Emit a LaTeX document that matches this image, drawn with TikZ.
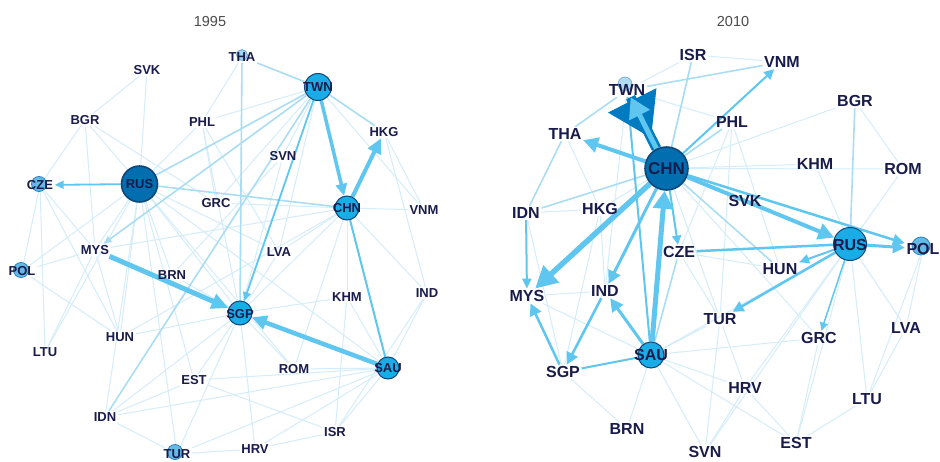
\documentclass[tikz,border=0pt]{standalone}
\usepackage{fontspec}
\setmainfont{Liberation Sans}
\usetikzlibrary{arrows.meta,backgrounds}

\definecolor{navy}{RGB}{25,28,75}
\definecolor{hubdark}{RGB}{0,110,175}
\definecolor{hublight}{RGB}{25,172,230}
\definecolor{hubline}{RGB}{15,70,120}
\definecolor{dotfill}{RGB}{100,185,230}
\definecolor{dotline}{RGB}{40,130,190}
\definecolor{faintc}{RGB}{212,237,249}
\definecolor{softc}{RGB}{170,221,243}
\definecolor{flowc}{RGB}{95,198,240}
\definecolor{wedgec}{RGB}{0,122,192}

\begin{document}
\begin{tikzpicture}[x=1pt,y=-1pt,
    lbl/.style={font=\bfseries\fontsize{13}{13}\selectfont,text=navy,inner sep=1.5pt},
    biglbl/.style={font=\bfseries\fontsize{16}{16}\selectfont,text=navy,inner sep=1.5pt},
    year/.style={font=\fontsize{14.5}{15}\selectfont,text=black!70},
    hub/.style={circle,draw=hubline,line width=1pt,fill=hublight,inner sep=0pt,minimum size=#1},
    darkhub/.style={hub=#1,fill=hubdark,line width=1.6pt},
    dot/.style={circle,draw=dotline,line width=0.8pt,fill=dotfill,inner sep=0pt,minimum size=#1},
    faint/.style={draw=faintc,line width=1pt},
    soft/.style={draw=softc,line width=1.6pt},
    flow/.style={draw=flowc,line width=#1},
    tip/.style 2 args={arrows={-{Triangle[length=#1,width=#2]}}}]
  \useasboundingbox (0,0) rectangle (940,461);

  % 1995
  \node[year] (t95) at (210,22) {1995};
  \node[dot=11pt,opacity=.6] (tha95) at (242,55) {};
  \node[lbl] (tha95txt) at (242,57) {THA};
  \node[lbl] (svk95) at (147,70) {SVK};
  \node[hub=27pt] (twn95) at (318,87) {};
  \node[lbl] (twn95txt) at (318,87) {TWN};
  \node[lbl] (bgr95) at (85,120) {BGR};
  \node[lbl] (phl95) at (202,122) {PHL};
  \node[lbl] (hkg95) at (384,132) {HKG};
  \node[lbl] (svn95) at (283,156) {SVN};
  \node[dot=15pt] (cze95) at (39,184) {};
  \node[lbl] (cze95txt) at (40,185) {CZE};
  \node[darkhub=36pt] (rus95) at (139.5,184) {};
  \node[lbl] (rus95txt) at (139.5,184) {RUS};
  \node[lbl] (grc95) at (216,203) {GRC};
  \node[hub=24pt] (chn95) at (347,208) {};
  \node[lbl] (chn95txt) at (347,208) {CHN};
  \node[lbl] (vnm95) at (424,210) {VNM};
  \node[lbl] (mys95) at (95,250) {MYS};
  \node[dot=15pt] (pol95) at (21,270) {};
  \node[lbl] (pol95txt) at (22,271) {POL};
  \node[lbl] (brn95) at (172,275) {BRN};
  \node[lbl] (lva95) at (279,252) {LVA};
  \node[lbl] (khm95) at (347,297) {KHM};
  \node[lbl] (ind95) at (427,293) {IND};
  \node[hub=24pt] (sgp95) at (240,313) {};
  \node[lbl] (sgp95txt) at (240,314) {SGP};
  \node[lbl] (hun95) at (120,337) {HUN};
  \node[lbl] (ltu95) at (45,352) {LTU};
  \node[hub=22pt] (sau95) at (388,368) {};
  \node[lbl] (sau95txt) at (388,368) {SAU};
  \node[lbl] (rom95) at (294,369) {ROM};
  \node[lbl] (est95) at (194,380) {EST};
  \node[lbl] (idn95) at (105,417) {IDN};
  \node[lbl] (isr95) at (335,432) {ISR};
  \node[lbl] (hrv95) at (255,449) {HRV};
  \node[dot=15pt] (tur95) at (175,452) {};
  \node[lbl] (tur95txt) at (177,454) {TUR};

  % 2010
  \node[year] (t10) at (733,22) {2010};
  \node[biglbl] (isr10) at (693,55) {ISR};
  \node[biglbl] (vnm10) at (782,62) {VNM};
  \node[dot=14pt,opacity=.5] (twn10) at (625,84) {};
  \node[biglbl] (twn10txt) at (627,90) {TWN};
  \node[biglbl] (bgr10) at (855,101) {BGR};
  \node[biglbl] (phl10) at (732,122) {PHL};
  \node[biglbl] (tha10) at (565,134) {THA};
  \node[darkhub=43pt] (chn10) at (666.5,168.5) {};
  \node[biglbl,font=\bfseries\fontsize{17}{17}\selectfont] (chn10txt) at (666.5,168.5) {CHN};
  \node[biglbl] (khm10) at (815,164) {KHM};
  \node[biglbl] (rom10) at (903,169) {ROM};
  \node[biglbl] (svk10) at (745,201) {SVK};
  \node[biglbl] (idn10) at (526,213) {IDN};
  \node[biglbl] (hkg10) at (600,209) {HKG};
  \node[hub=33pt] (rus10) at (850,244) {};
  \node[biglbl] (rus10txt) at (850,245) {RUS};
  \node[dot=18pt] (pol10) at (921,246) {};
  \node[biglbl] (pol10txt) at (923,249) {POL};
  \node[biglbl] (cze10) at (679,252) {CZE};
  \node[biglbl] (hun10) at (780,269) {HUN};
  \node[biglbl] (ind10) at (605,291) {IND};
  \node[biglbl] (mys10) at (527,296) {MYS};
  \node[biglbl] (tur10) at (720,319) {TUR};
  \node[biglbl] (lva10) at (906,328) {LVA};
  \node[biglbl] (grc10) at (819,338) {GRC};
  \node[hub=26pt] (sau10) at (651,355) {};
  \node[biglbl] (sau10txt) at (651,355) {SAU};
  \node[biglbl] (sgp10) at (563,372) {SGP};
  \node[biglbl] (hrv10) at (745,388) {HRV};
  \node[biglbl] (ltu10) at (867,399) {LTU};
  \node[biglbl] (brn10) at (627,429) {BRN};
  \node[biglbl] (est10) at (796,443) {EST};
  \node[biglbl] (svn10) at (705,452) {SVN};

  \begin{scope}[on background layer]
    \fill[white] (0,0) rectangle (940,461);
    % 1995 web
    \foreach \a/\b in {rus95/svk95,rus95/bgr95,rus95/phl95,rus95/mys95,rus95/pol95txt,
        rus95/ltu95,rus95/hun95,rus95/idn95,rus95/tur95txt,rus95/est95,rus95/sgp95,
        rus95/rom95,rus95/sau95,rus95/lva95,rus95/brn95,svk95/bgr95,bgr95/cze95txt,
        bgr95/grc95,bgr95/mys95,cze95txt/pol95txt,cze95txt/mys95,cze95txt/ltu95,
        cze95txt/hun95,pol95txt/mys95,pol95txt/hun95,mys95/hun95,mys95/ltu95,
        tha95txt/phl95,phl95/twn95,phl95/grc95,phl95/lva95,phl95/sgp95,twn95/svn95,
        twn95/lva95,twn95/vnm95,twn95/grc95,chn95/vnm95,chn95/ind95,chn95/khm95,
        chn95/lva95,chn95/sgp95,chn95/rom95,chn95/grc95,chn95/mys95,chn95/hun95,
        hkg95/vnm95,hkg95/ind95,svn95/sgp95,svn95/brn95,sgp95/tur95txt,sgp95/hrv95,
        sgp95/est95,sgp95/idn95,sgp95/rom95,sgp95/khm95,sgp95/hun95,sgp95/lva95,
        sgp95/brn95,sau95/ind95,sau95/khm95,sau95/isr95,sau95/hrv95,sau95/tur95txt,
        sau95/idn95,sau95/est95,sau95/rom95,tur95txt/hrv95,isr95/hrv95,idn95/tur95txt,
        est95/isr95,khm95/isr95,ind95/isr95,idn95/est95}
      \draw[faint] (\a) -- (\b);
    \foreach \a/\b in {tha95txt/twn95,tha95txt/sgp95,twn95/hkg95,twn95/idn95,
        rus95/twn95,rus95/chn95}
      \draw[soft] (\a) -- (\b);
    \draw[soft,tip={8pt}{7pt}] (twn95) -- (mys95);
    \draw[flow=2pt] (chn95) -- (sau95);
    \draw[flow=1.8pt,tip={9pt}{8pt}] (rus95) -- (cze95txt);
    \draw[flow=1.8pt,tip={9pt}{8pt}] (twn95) -- (sgp95);
    \draw[flow=3.5pt,tip={12pt}{11pt}] (twn95) -- (chn95);
    \draw[flow=4pt,tip={15pt}{14pt}] (chn95) -- (hkg95);
    \draw[flow=5pt,tip={17pt}{15pt}] (mys95) -- (sgp95);
    \draw[flow=4.5pt,tip={15pt}{14pt}] (sau95) -- (sgp95);

    % 2010 web
    \foreach \a/\b in {chn10/isr10,chn10/phl10,chn10/khm10,chn10/rom10,chn10/bgr10,
        chn10/hkg10,chn10/sgp10,chn10/tur10,chn10/grc10,twn10txt/isr10,twn10txt/phl10,
        twn10txt/ind10,isr10/vnm10,phl10/tur10,phl10/hun10,phl10/cze10,khm10/rus10,
        rus10/rom10,bgr10/rom10,rus10/lva10,rus10/ltu10,rus10/est10,rus10/hrv10,
        rus10/svn10,pol10txt/lva10,pol10txt/ltu10,lva10/ltu10,ltu10/est10,grc10/est10,
        hrv10/svn10,hrv10/est10,tur10/hrv10,tur10/svn10,sau10/tur10,sau10/grc10,
        sau10/hrv10,sau10/brn10,sau10/svn10,sau10/rus10,sau10/mys10,sau10/est10,
        sgp10/brn10,hkg10/ind10,hkg10/sgp10,mys10/ind10,idn10/sgp10,idn10/hkg10,
        tha10/hkg10,cze10/tur10,cze10/hun10}
      \draw[faint] (\a) -- (\b);
    \foreach \a/\b in {tha10/idn10,idn10/chn10,twn10txt/tha10,twn10txt/vnm10,
        isr10/chn10,phl10/chn10,bgr10/rus10,chn10/hun10,sau10/cze10}
      \draw[soft] (\a) -- (\b);
    \draw[flow=2pt] (twn10txt) -- (sau10);
    \draw[flow=2.5pt] (rus10) -- (cze10);
    \draw[flow=2pt] (sau10) -- (sgp10);
    \draw[flow=2pt,tip={10pt}{9pt}] (idn10) -- (mys10);
    \draw[flow=2pt,tip={10pt}{10pt}] (chn10) -- (vnm10);
    \draw[flow=2pt,tip={9pt}{9pt}] (chn10) -- (cze10);
    \draw[flow=1.5pt,tip={8pt}{8pt}] (rus10) -- (grc10);
    \draw[flow=2pt,tip={10pt}{9pt}] (rus10) -- (hun10);
    \draw[flow=2.5pt,tip={11pt}{11pt}] (rus10) -- (tur10);
    \draw[flow=3pt,tip={12pt}{12pt}] (rus10) -- (pol10txt);
    \draw[flow=2.5pt,tip={12pt}{11pt}] (chn10) -- (pol10txt);
    \draw[flow=2.5pt,tip={12pt}{12pt}] (sgp10) -- (mys10);
    \draw[flow=2.5pt,tip={12pt}{12pt}] (ind10) -- (sgp10);
    \draw[flow=3pt,tip={13pt}{13pt}] (sau10) -- (ind10);
    \draw[flow=3pt,tip={13pt}{13pt}] (chn10) -- (ind10);
    \draw[flow=4pt,tip={15pt}{15pt}] (chn10) -- (tha10);
    \draw[flow=4pt,tip={16pt}{16pt}] (chn10) -- (rus10);
    \draw[flow=5.5pt,tip={22pt}{22pt}] (chn10) -- (mys10);
    \draw[flow=5pt,tip={18pt}{20pt}] (sau10) -- (chn10);
    \draw[draw=wedgec,line width=10pt] (chn10) -- (twn10txt);
    \draw[draw=wedgec,line width=1pt,shorten >=12pt,tip={42pt}{54pt}] (twn10txt) -- (chn10);
    \draw[flow=5pt,tip={20pt}{22pt}] (chn10) -- (twn10txt);
  \end{scope}
\end{tikzpicture}
\end{document}
